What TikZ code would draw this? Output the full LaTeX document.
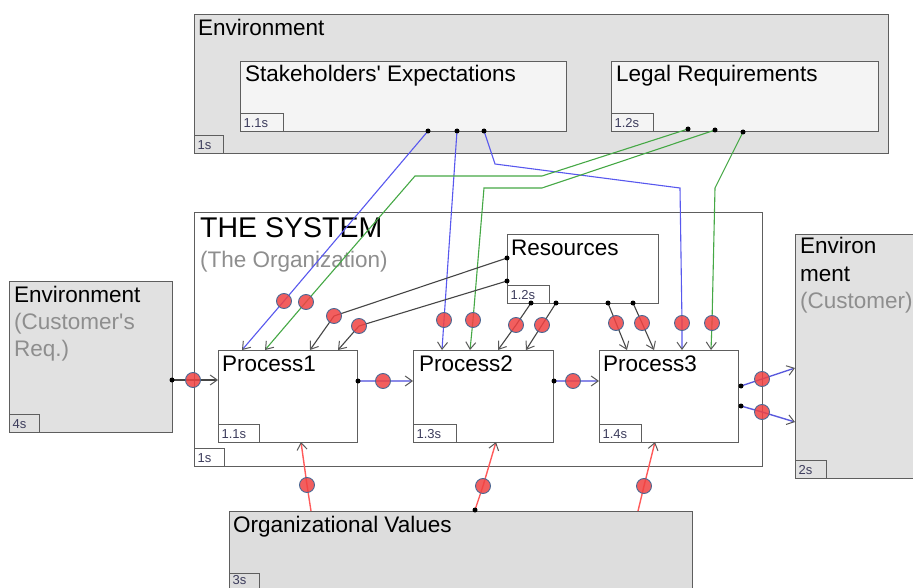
\documentclass[tikz,border=0pt]{standalone}
\usepackage{fontspec}
\setmainfont{Liberation Sans}
\usetikzlibrary{arrows.meta}
\definecolor{envfill}{HTML}{E1E1E1}
\definecolor{innerfill}{HTML}{F4F4F4}
\definecolor{orgfill}{HTML}{DDDDDD}
\definecolor{boxgray}{HTML}{5E5E5E}
\definecolor{notegray}{HTML}{8E8E8E}
\definecolor{tagtext}{HTML}{3C3C5C}
\definecolor{linkblue}{HTML}{5858EE}
\definecolor{linkgreen}{HTML}{45A845}
\definecolor{linkdark}{HTML}{454545}
\definecolor{linkred}{HTML}{FF5A5A}
\definecolor{flowblue}{HTML}{8A8AE8}
\definecolor{outblue}{HTML}{5A5ADD}
\definecolor{ballred}{HTML}{F04242}
\definecolor{ballrim}{HTML}{4A6894}
\definecolor{tipgray}{HTML}{5A5A5A}
\pgfdeclarelayer{front}
\pgfsetlayers{main,front}
\tikzset{
  boxsty/.style={draw=boxgray, line width=1.4pt, inner sep=0pt, anchor=north west},
  tagsty/.style={draw=boxgray, line width=1.1pt, anchor=south west, inner xsep=3pt,
    inner ysep=0pt, minimum height=18pt, font=\fontsize{13}{14}\selectfont,
    text=tagtext, align=left},
  ttl/.style={anchor=base west, inner sep=0pt, font=\fontsize{22.5}{27}\selectfont, text=black},
  subttl/.style={ttl, text=notegray},
  redball/.style={circle, draw=ballrim, line width=0.9pt, fill=ballred, fill opacity=0.85,
    minimum size=15pt, inner sep=0pt},
  blackdot/.style={circle, fill=black, minimum size=5pt, inner sep=0pt},
  conn/.style={line width=1.1pt, -{Straight Barb[length=7pt,width=10pt,line width=1pt,color=tipgray]}},
  blueconn/.style={conn, draw=linkblue},
  greenconn/.style={conn, draw=linkgreen},
  darkconn/.style={conn, draw=linkdark},
  redconn/.style={conn, draw=linkred, line width=1.4pt},
  flowconn/.style={conn, draw=flowblue, line width=2.6pt},
  outconn/.style={conn, draw=outblue, line width=1.4pt},
}
\begin{document}
\begin{tikzpicture}[x=1pt,y=-1pt]
\useasboundingbox (0,0) rectangle (913,588);
\clip (0,0) rectangle (913,588);

% ---------- boxes ----------
\node[boxsty, fill=envfill, minimum width=694pt, minimum height=139pt] (envtop) at (194,14) {};
\node[boxsty, fill=innerfill, minimum width=326pt, minimum height=70pt] (stake) at (240,61) {};
\node[boxsty, fill=innerfill, minimum width=267pt, minimum height=70pt] (legal) at (611,61) {};
\node[boxsty, fill=white, minimum width=568pt, minimum height=254pt] (sys) at (194,212) {};
\node[boxsty, fill=white, minimum width=151pt, minimum height=69pt] (res) at (507,234) {};
\node[boxsty, fill=white, minimum width=139pt, minimum height=92pt] (p1) at (218,350) {};
\node[boxsty, fill=white, minimum width=140pt, minimum height=92pt] (p2) at (413,350) {};
\node[boxsty, fill=white, minimum width=139pt, minimum height=92pt] (p3) at (599,350) {};
\node[boxsty, fill=envfill, minimum width=163pt, minimum height=151pt] (envl) at (9,281) {};
\node[boxsty, fill=envfill, minimum width=140pt, minimum height=244pt] (envr) at (795,234) {};
\node[boxsty, fill=orgfill, minimum width=463pt, minimum height=80pt] (org) at (229,511) {};

% ---------- tags ----------
\node[tagsty, text width=23pt] (tgEnvTop) at (envtop.south west) {1s};
\node[tagsty, text width=37pt] (tgStake) at (stake.south west) {1.1s};
\node[tagsty, text width=36pt] (tgLegal) at (legal.south west) {1.2s};
\node[tagsty, text width=24pt] (tgSys) at (sys.south west) {1s};
\node[tagsty, text width=36pt] (tgRes) at (res.south west) {1.2s};
\node[tagsty, text width=35pt] (tgP1) at (p1.south west) {1.1s};
\node[tagsty, text width=37pt] (tgP2) at (p2.south west) {1.3s};
\node[tagsty, text width=36pt] (tgP3) at (p3.south west) {1.4s};
\node[tagsty, text width=24pt] (tgEnvL) at (envl.south west) {4s};
\node[tagsty, text width=25pt] (tgEnvR) at (envr.south west) {2s};
\node[tagsty, text width=24pt, text height=9.5pt, text depth=6pt] (tgOrg) at (org.south west) {3s};

% ---------- titles ----------
\node[ttl] (lbEnvTop) at (198,36) {Environment};
\node[ttl] (lbStake) at (245,82) {Stakeholders\textquotesingle\ Expectations};
\node[ttl] (lbLegal) at (616,82) {Legal Requirements};
\node[ttl, font=\fontsize{28.5}{32}\selectfont] (lbSys) at (200,237) {THE SYSTEM};
\node[subttl] (lbSysSub) at (200,267) {(The Organization)};
\node[ttl] (lbRes) at (511,255) {Resources};
\node[ttl] (lbP1) at (222,371) {Process1};
\node[ttl] (lbP2) at (419,371) {Process2};
\node[ttl] (lbP3) at (603,371) {Process3};
\node[ttl] (lbEnvL) at (14,302) {Environment};
\node[subttl] (lbEnvLa) at (14,329) {(Customer\textquotesingle s};
\node[subttl] (lbEnvLb) at (14,356) {Req.)};
\node[ttl] (lbEnvRa) at (800,254) {Environ};
\node[ttl] (lbEnvRb) at (800,281) {ment};
\node[subttl] (lbEnvRc) at (800,308) {(Customer)};
\node[ttl] (lbOrg) at (233,532) {Organizational Values};

% ---------- connector ends and bends ----------
\coordinate (s1) at (428,131);
\coordinate (s2) at (457,131);
\coordinate (s3) at (484,131);
\coordinate (l1) at (688,129);
\coordinate (l2) at (715,130);
\coordinate (l3) at (743,132);
\coordinate (r1) at (507,258);
\coordinate (r2) at (507,281);
\coordinate (r3) at (531,303);
\coordinate (r4) at (556,303);
\coordinate (r5) at (608,303);
\coordinate (r6) at (633,303);
\coordinate (e1) at (172,380);
\coordinate (q1) at (358,381);
\coordinate (q2) at (554,381);
\coordinate (o1) at (741,386);
\coordinate (o2) at (741,406);
\coordinate (v1) at (311,511);
\coordinate (v2) at (475,510);
\coordinate (v3) at (638,511);

\coordinate (bs3a) at (495,164);
\coordinate (bs3b) at (680,188);
\coordinate (bga1) at (542,176);
\coordinate (bga2) at (415,176);
\coordinate (bgb1) at (542,188);
\coordinate (bgb2) at (484,188);
\coordinate (bgc1) at (715,188);

\coordinate (tS1) at (242,350);
\coordinate (tG1) at (265,350);
\coordinate (tK1) at (310,350);
\coordinate (tK2) at (338,350);
\coordinate (tS2) at (442,350);
\coordinate (tG2) at (470,350);
\coordinate (tK3) at (498,350);
\coordinate (tK4) at (526,350);
\coordinate (tK5) at (627,350);
\coordinate (tK6) at (654,350);
\coordinate (tS3) at (682,350);
\coordinate (tG3) at (711,350);
\coordinate (tE1) at (218,380);
\coordinate (tP12) at (413,381);
\coordinate (tP23) at (599,381);
\coordinate (tO1) at (795,368);
\coordinate (tO2) at (795,422);
\coordinate (tV1) at (301,442);
\coordinate (tV2) at (496,442);
\coordinate (tV3) at (655,442);

% ---------- red markers and source dots (front layer) ----------
\begin{pgfonlayer}{front}
  \node[redball] (bS1) at (284,301) {};
  \node[redball] (bG1) at (306,302) {};
  \node[redball] (bK1) at (334,316) {};
  \node[redball] (bK2) at (359,326) {};
  \node[redball] (bS2) at (444,320) {};
  \node[redball] (bG2) at (473,320) {};
  \node[redball] (bK3) at (516,325) {};
  \node[redball] (bK4) at (542,325) {};
  \node[redball] (bK5) at (616,323) {};
  \node[redball] (bK6) at (642,323) {};
  \node[redball] (bS3) at (682,323) {};
  \node[redball] (bG3) at (712,323) {};
  \node[redball] (bE1) at (193,380) {};
  \node[redball] (bP12) at (383,381) {};
  \node[redball] (bP23) at (573,381) {};
  \node[redball] (bO1) at (762,379) {};
  \node[redball] (bO2) at (762,412) {};
  \node[redball] (bV1) at (307,485) {};
  \node[redball] (bV2) at (483,486) {};
  \node[redball] (bV3) at (644,486) {};
  \foreach \p in {s1,s2,s3,l1,l2,l3,r1,r2,r3,r4,r5,r6,e1,q1,q2,o1,o2,v2}
    \node[blackdot] (dot-\p) at (\p) {};
\end{pgfonlayer}

% ---------- connectors ----------
% stakeholders' expectations
\draw[blueconn] (s1) -- (bS1.center) -- (tS1);
\draw[blueconn] (s2) -- (bS2.center) -- (tS2);
\draw[blueconn] (s3) -- (bs3a) -- (bs3b) -- (bS3.center) -- (tS3);
% legal requirements
\draw[greenconn] (l1) -- (bga1) -- (bga2) -- (bG1.center) -- (tG1);
\draw[greenconn] (l2) -- (bgb1) -- (bgb2) -- (bG2.center) -- (tG2);
\draw[greenconn] (l3) -- (bgc1) -- (bG3.center) -- (tG3);
% resources
\draw[darkconn] (r1) -- (bK1.center) -- (tK1);
\draw[darkconn] (r2) -- (bK2.center) -- (tK2);
\draw[darkconn] (r3) -- (bK3.center) -- (tK3);
\draw[darkconn] (r4) -- (bK4.center) -- (tK4);
\draw[darkconn] (r5) -- (bK5.center) -- (tK5);
\draw[darkconn] (r6) -- (bK6.center) -- (tK6);
% main flow
\draw[darkconn] (e1) -- (bE1.center) -- (tE1);
\draw[flowconn] (q1) -- (bP12.center) -- (tP12);
\draw[flowconn] (q2) -- (bP23.center) -- (tP23);
\draw[outconn] (o1) -- (bO1.center) -- (tO1);
\draw[outconn] (o2) -- (bO2.center) -- (tO2);
% organizational values
\draw[redconn] (v1) -- (bV1.center) -- (tV1);
\draw[redconn] (v2) -- (bV2.center) -- (tV2);
\draw[redconn] (v3) -- (bV3.center) -- (tV3);
\end{tikzpicture}
\end{document}
